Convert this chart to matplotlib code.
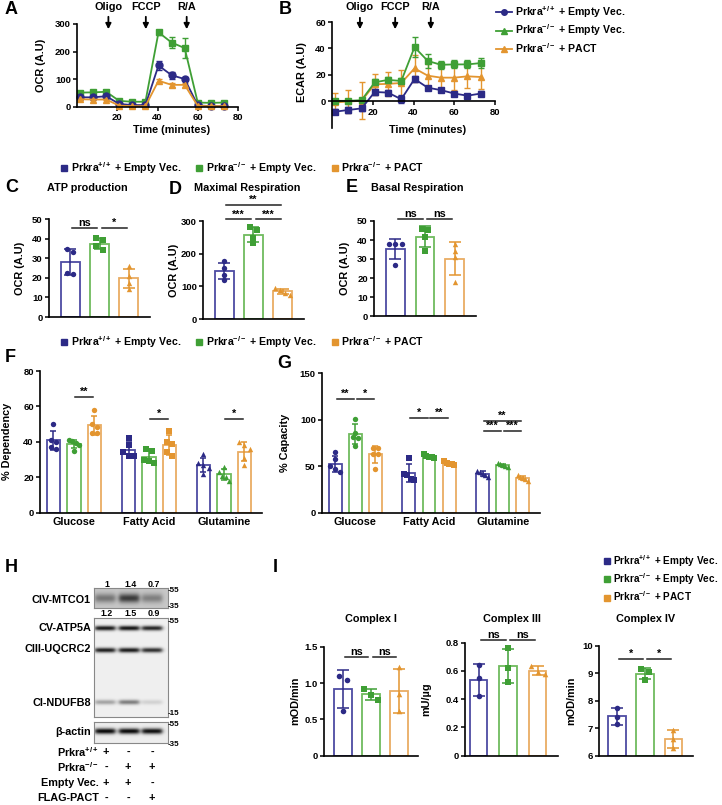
import numpy as np
import matplotlib
matplotlib.use('Agg')
import matplotlib.pyplot as plt
import matplotlib.transforms as mtransforms
from matplotlib.lines import Line2D

plt.rcParams['font.family'] = ['Liberation Sans', 'DejaVu Sans']
plt.rcParams['font.weight'] = 'bold'
plt.rcParams['axes.labelweight'] = 'bold'
plt.rcParams['axes.titleweight'] = 'bold'
plt.rcParams['mathtext.fontset'] = 'custom'
plt.rcParams['mathtext.rm'] = 'Liberation Sans:bold'
plt.rcParams['mathtext.it'] = 'Liberation Sans:bold'
plt.rcParams['mathtext.bf'] = 'Liberation Sans:bold'
plt.rcParams['mathtext.default'] = 'rm'
plt.rcParams['axes.linewidth'] = 1.2

W, H = 722, 805

BLUE, GREEN, ORANGE = '#2c2a86', '#3f9f35', '#e3952f'
BLUE_E, GREEN_E, ORANGE_E = '#4d4ba2', '#6fbb5e', '#e9ad63'
DARK = [BLUE, GREEN, ORANGE]
EDGE = [BLUE_E, GREEN_E, ORANGE_E]

GROUPS = ['Prkra$^{+/+}$ + Empty Vec.', 'Prkra$^{-/-}$ + Empty Vec.', 'Prkra$^{-/-}$ + PACT']

# --- A / B : seahorse traces ---
time_min = [1.5, 8, 14.5, 21, 27.5, 34, 40.5, 47, 53.5, 60, 66.5, 73]
ocr_wt = [35, 35, 39, 11, 7, 7, 150, 115, 101, 6, 3, 3]
ocr_wt_err = [4, 4, 4, 3, 3, 3, 15, 12, 7, 2, 2, 2]
ocr_ko = [52, 53, 55, 22, 19, 19, 270, 233, 213, 16, 15, 16]
ocr_ko_err = [5, 5, 5, 4, 4, 4, 8, 20, 36, 3, 3, 3]
ocr_pact = [28, 27, 27, 5, 3, 3, 95, 80, 80, 4, 3, 3]
ocr_pact_err = [3, 3, 3, 2, 2, 2, 5, 6, 6, 2, 2, 2]

ecar_wt = [-7.7, -6.4, -5.2, 7.2, 6.7, 1.7, 17, 10.4, 8.6, 6, 4.4, 6]
ecar_wt_err = [2, 2, 2, 2, 2, 3, 2, 1.5, 1.5, 1.5, 1.5, 2]
ecar_ko = [0.5, 0.5, 1, 14.5, 16.3, 15.5, 41, 30.6, 27.7, 28, 28, 29]
ecar_ko_err = [1, 1, 1, 2.5, 2.5, 2.5, 7.5, 5, 3, 3, 3, 3.5]
ecar_pact = [-0.7, 0, 0.5, 13, 13.3, 14, 25, 19.5, 18, 18, 19, 18.5]
ecar_pact_err = [7, 9, 14, 8, 9, 10, 10, 9, 9, 9, 9, 9]

injections = ['Oligo', 'FCCP', 'R/A']
inject_a = [15.6, 34.2, 54.5]
inject_b = [13.7, 31, 48.5]

# --- C / D / E ---
atp_prod = [[33, 34.7, 22, 22.5], [40.5, 39.5, 36, 34], [26, 21, 17.5, 14.5]]
max_resp = [[178, 157, 135, 120], [282, 272, 248, 232], [95, 88, 80, 75]]
basal_resp = [[38, 38, 38, 27], [46, 45.5, 41.5, 34], [38, 34, 31, 18]]

# --- F / G ---
fuels = ['Glucose', 'Fatty Acid', 'Glutamine']
dependency = [
    [[50, 41, 37, 36, 40], [40.5, 39.5, 41, 38, 35], [58, 50, 48.5, 45, 45]],
    [[42, 38, 34, 32, 32], [36, 35, 30, 29, 28], [46, 40, 39, 34, 32]],
    [[33, 28, 27, 25, 22], [26, 23, 21, 20, 18], [40, 38, 36, 31, 27]],
]
capacity = [
    [[65, 58, 50, 47, 44], [101, 86, 81, 80, 72], [70, 70, 63, 63, 47]],
    [[59, 42, 40, 36, 35], [63, 61, 60, 60, 59], [55, 53, 52, 52, 51]],
    [[45, 44, 42, 41, 38], [53, 52, 51, 50, 49], [40, 38, 37, 36, 34]],
]

# --- H : blot ---
blot_lanes = ['Prkra$^{+/+}$', 'Prkra$^{-/-}$', 'Empty Vec.', 'FLAG-PACT']
lane_signs = [['+', '-', '-'], ['-', '+', '+'], ['+', '+', '-'], ['-', '-', '+']]
mtco1_ratio = ['1', '1.4', '0.7']
atp5a_ratio = ['1.2', '1.5', '0.9']
mtco1_int = [0.32, 0.55, 0.28]
atp5a_int = [0.85, 0.87, 0.8]
uqcrc2_int = [0.82, 0.84, 0.76]
ndufb8_int = [0.3, 0.45, 0.12]
actin_int = [0.9, 0.9, 0.88]

# --- I : complex activity ---
complex_1 = [[1.10, 1.04, 0.62], [0.92, 0.84, 0.77], [1.22, 0.85, 0.62]]
complex_3 = [[0.64, 0.55, 0.42], [0.76, 0.62, 0.52], [0.635, 0.595, 0.575]]
complex_4 = [[7.75, 7.4, 7.15], [9.15, 9.05, 8.75], [6.95, 6.6, 6.28]]

fig = plt.figure(figsize=(W / 100, H / 100), dpi=100)


def add_ax(x0, y0, x1, y1):
    return fig.add_axes([x0 / W, 1 - y1 / H, (x1 - x0) / W, (y1 - y0) / H])


def ftext(px, py, s, **kw):
    fig.text(px / W, 1 - py / H, s, **kw)


def style(ax):
    ax.spines[['top', 'right']].set_visible(False)
    ax.tick_params(labelsize=6.8, length=3, width=1.1, pad=1.5)


def spread(values, thr, dx, maxw):
    values = np.asarray(values, dtype=float)
    order = np.argsort(values)[::-1]
    offs = np.zeros(len(values))
    clusters, cur = [], [order[0]]
    for i in order[1:]:
        if abs(values[cur[-1]] - values[i]) < thr:
            cur.append(i)
        else:
            clusters.append(cur)
            cur = [i]
    clusters.append(cur)
    for cl in clusters:
        k = len(cl)
        step = min(dx, maxw / (k - 1)) if k > 1 else 0
        for j, idx in enumerate(cl):
            offs[idx] = (j - (k - 1) / 2) * step
    return offs


def bars(ax, xs, samples, width, markers, base=0, thr=1.0, dx=0.15, cap=4, ms=12):
    for k, (x, pts) in enumerate(zip(xs, samples)):
        pts = np.asarray(pts, dtype=float)
        m, sd = pts.mean(), pts.std(ddof=1)
        ax.bar(x, m - base, bottom=base, width=width, facecolor='white',
               edgecolor=EDGE[k % 3], lw=1.3, zorder=1)
        ax.errorbar(x, m, yerr=sd, fmt='none', ecolor=DARK[k % 3], elinewidth=1.1,
                    capsize=cap, capthick=1.1, zorder=2)
        ax.scatter(x + spread(pts, thr, dx, width * 0.8), pts, marker=markers[k], s=ms,
                   color=DARK[k % 3], zorder=3, clip_on=False, linewidths=0)


def sig(ax, x1, x2, y, text, shrink=0.08):
    ax.plot([x1 + shrink, x2 - shrink], [y, y], color='#222222', lw=1.1, clip_on=False)
    ax.text((x1 + x2) / 2, y, text, ha='center', va='bottom', fontsize=7.8, clip_on=False)


# ---------------- A ----------------
ftext(5, 10, 'A', fontsize=13, ha='left', va='center')
axA = add_ax(77, 24, 238, 107)
for vals, errs, c, mk in [(ocr_ko, ocr_ko_err, GREEN, 's'), (ocr_wt, ocr_wt_err, BLUE, 'o'),
                          (ocr_pact, ocr_pact_err, ORANGE, '^')]:
    axA.errorbar(time_min, vals, yerr=errs, color=c, marker=mk, ms=5, lw=1.3,
                 capsize=2, elinewidth=1, clip_on=False)
axA.set_xlim(0, 80)
axA.set_ylim(0, 300)
axA.set_xticks([20, 40, 60, 80])
axA.set_yticks([0, 100, 200, 300])
style(axA)
axA.set_ylabel('OCR (A.U)', fontsize=7.8)
axA.yaxis.set_label_coords(-0.19, 0.5)
ftext(172, 130, 'Time (minutes)', ha='center', va='center', fontsize=7.8)
trA = mtransforms.blended_transform_factory(axA.transData, fig.transFigure)
for name, t in zip(injections, inject_a):
    axA.annotate('', xy=(t, 1 - 32 / H), xytext=(t, 1 - 14 / H), xycoords=trA, textcoords=trA,
                 arrowprops=dict(arrowstyle='-|>', color='k', lw=1.3, mutation_scale=8))
    axA.text(t, 1 - 7 / H, name, transform=trA, ha='center', va='center', fontsize=7.8)

# ---------------- B ----------------
ftext(279, 10, 'B', fontsize=13, ha='left', va='center')
axB = add_ax(332, 22, 495, 128)
for vals, errs, c, mk in [(ecar_pact, ecar_pact_err, ORANGE, '^'), (ecar_ko, ecar_ko_err, GREEN, 's'),
                          (ecar_wt, ecar_wt_err, BLUE, 's')]:
    axB.errorbar(time_min, vals, yerr=errs, color=c, marker=mk, ms=5, lw=1.3,
                 capsize=2, elinewidth=1, clip_on=False)
axB.set_xlim(0, 80)
axB.set_ylim(-20, 60)
axB.set_xticks([20, 40, 60, 80])
axB.set_yticks([0, 20, 40, 60])
style(axB)
axB.spines['bottom'].set_position(('data', 0))
axB.set_ylabel('ECAR (A.U)', fontsize=7.8)
axB.yaxis.set_label_coords(-0.155, 0.53)
ftext(428, 130, 'Time (minutes)', ha='center', va='center', fontsize=7.8)
trB = mtransforms.blended_transform_factory(axB.transData, fig.transFigure)
for name, t in zip(injections, inject_b):
    axB.annotate('', xy=(t, 1 - 32 / H), xytext=(t, 1 - 15 / H), xycoords=trB, textcoords=trB,
                 arrowprops=dict(arrowstyle='-|>', color='k', lw=1.3, mutation_scale=8))
    axB.text(t, 1 - 7 / H, name, transform=trB, ha='center', va='center', fontsize=7.8)
line_handles = [Line2D([], [], color=c, marker=mk, ms=4, lw=1.3) for c, mk in
                [(BLUE, 'o'), (GREEN, '^'), (ORANGE, '^')]]
fig.legend(line_handles, GROUPS, loc='upper left', bbox_to_anchor=(496 / W, 1 - 4 / H),
           frameon=False, fontsize=7.6, handlelength=1.5, handletextpad=0.3,
           labelspacing=0.25, borderpad=0, borderaxespad=0)

# ---------------- legend rows ----------------
sq_handles = [Line2D([], [], color=c, marker='s', ls='none', ms=4.5) for c in DARK]
for yrow in (168, 342):
    fig.legend(sq_handles, GROUPS, loc='center left', bbox_to_anchor=(60 / W, 1 - yrow / H),
               ncol=3, frameon=False, fontsize=7.6, handlelength=0.8, handletextpad=0.2,
               columnspacing=1.35, borderpad=0, borderaxespad=0)

# ---------------- C / D / E ----------------
cde = [
    ('C', 'ATP production', atp_prod, (49, 219, 150, 317), (0, 50), range(0, 51, 10)),
    ('D', 'Maximal Respiration', max_resp, (203, 221, 304, 319), (0, 300), [0, 100, 200, 300]),
    ('E', 'Basal Respiration', basal_resp, (374, 221, 476, 316), (0, 50), range(0, 51, 10)),
]
letter_xy = {'C': (5, 187), 'D': (169, 190), 'E': (346, 188)}
title_x = {'C': 87, 'D': 247, 'E': 417}
cde_axes = {}
for letter, title, data, rect, ylim, yt in cde:
    ax = add_ax(*rect)
    bars(ax, [0, 1, 2], data, 0.64, ['o', 's', '^'], thr=(ylim[1] - ylim[0]) * 0.05,
         dx=0.22, cap=4.3, ms=15)
    ax.set_xlim(-0.72, 2.72)
    ax.set_ylim(*ylim)
    ax.set_yticks(list(yt))
    ax.set_xticks([])
    style(ax)
    ax.set_ylabel('OCR (A.U)', fontsize=7.8)
    ax.yaxis.set_label_coords(-0.235, 0.5)
    ftext(*letter_xy[letter], letter, fontsize=13, ha='left', va='center')
    ftext(title_x[letter], 188, title, fontsize=7.8, ha='center', va='center')
    cde_axes[letter] = ax

sig(cde_axes['C'], 0, 1, 45.5, 'ns')
sig(cde_axes['C'], 1, 2, 45.5, '*')
sig(cde_axes['D'], 0, 1, 305, '***')
sig(cde_axes['D'], 1, 2, 305, '***')
sig(cde_axes['D'], 0, 2, 350, '**')
sig(cde_axes['E'], 0, 1, 51, 'ns')
sig(cde_axes['E'], 1, 2, 51, 'ns')

# ---------------- F / G ----------------
off = 0.273
fg = [
    ('F', dependency, (40, 371, 262, 512.7), (0, 80), [0, 20, 40, 60, 80], '% Dependency', -0.126, (5, 357)),
    ('G', capacity, (322, 373, 540, 512.7), (0, 150), [0, 50, 100, 150], '% Capacity', -0.147, (277, 363)),
]
fg_axes = {}
for letter, data, rect, ylim, yt, ylabel, lx, lxy in fg:
    ax = add_ax(*rect)
    for g, groups in enumerate(data):
        xs = [g - off, g, g + off]
        mk = ['o', 's', '^'][g]
        bars(ax, xs, groups, 0.175, [mk] * 3, thr=ylim[1] * 0.03, dx=0.07, cap=2.4, ms=15)
    ax.set_xlim(-0.453, 2.507)
    ax.set_ylim(*ylim)
    ax.set_yticks(yt)
    ax.set_xticks([0, 1, 2])
    ax.set_xticklabels(fuels, fontsize=7.8)
    style(ax)
    ax.tick_params(axis='x', length=0, labelsize=7.8, pad=3)
    ax.set_ylabel(ylabel, fontsize=7.8)
    ax.yaxis.set_label_coords(lx, 0.5)
    ftext(*lxy, letter, fontsize=13, ha='left', va='center')
    fg_axes[letter] = ax

axF, axG = fg_axes['F'], fg_axes['G']
sig(axF, 0, 0 + off, 65.4, '**', shrink=0.02)
sig(axF, 1, 1 + off, 53, '*', shrink=0.02)
sig(axF, 2, 2 + off, 53, '*', shrink=0.02)
sig(axG, 0 - off, 0, 122.5, '**', shrink=0.02)
sig(axG, 0, 0 + off, 122.5, '*', shrink=0.02)
sig(axG, 1 - off, 1, 101.8, '*', shrink=0.02)
sig(axG, 1, 1 + off, 101.8, '**', shrink=0.02)
sig(axG, 2 - off, 2, 88, '***', shrink=0.02)
sig(axG, 2, 2 + off, 88, '***', shrink=0.02)
sig(axG, 2 - off, 2 + off, 98.6, '**', shrink=0.02)

# ---------------- H : western blot ----------------
ftext(5, 567, 'H', fontsize=13, ha='left', va='center')
lanes_px = [105, 129, 152]
box_x0, box_x1 = 94, 168


def blot(y0, y1, bands, bg, sigma):
    ax = add_ax(box_x0, y0, box_x1, y1)
    scale = 3
    h, w = int((y1 - y0) * scale), int((box_x1 - box_x0) * scale)
    yy = np.arange(h)[:, None] / scale
    xx = np.arange(w)[None, :] / scale
    img = np.full((h, w), bg)
    for row, ints in bands:
        for lx, it in zip(lanes_px, ints):
            cx = lx - box_x0
            px_ = 1 / (1 + np.exp(-(xx - (cx - 10)) / 1.2)) / (1 + np.exp((xx - (cx + 10)) / 1.2))
            py_ = np.exp(-0.5 * ((yy - row) / sigma) ** 2)
            img = img - it * px_ * py_
    ax.imshow(np.clip(img, 0, 1), cmap='gray', vmin=0, vmax=1, aspect='auto',
              extent=[0, w / scale, h / scale, 0], interpolation='bilinear')
    ax.set_xticks([])
    ax.set_yticks([])
    for s in ax.spines.values():
        s.set_color('#888888')
        s.set_linewidth(0.8)
    return ax


blot(588, 608, [(10, mtco1_int)], 0.78, 3.2)
blot(618, 717, [(10, atp5a_int), (32, uqcrc2_int), (84, ndufb8_int)], 0.94, 1.7)
blot(722, 743, [(9, actin_int)], 0.93, 2.0)

for lx, r in zip(lanes_px, mtco1_ratio):
    ftext(lx + 2, 584, r, fontsize=6.4, ha='center', va='center')
for lx, r in zip(lanes_px, atp5a_ratio):
    ftext(lx + 2, 613, r, fontsize=6.4, ha='center', va='center')
for py, s in [(590, '-55'), (606, '-35'), (621, '-55'), (713, '-15'), (724, '-55'), (744, '-35')]:
    ftext(168, py, s, fontsize=5.8, ha='left', va='center')
for py, s in [(600, 'CIV-MTCO1'), (628, 'CV-ATP5A'), (649, 'CIII-UQCRC2'), (703, 'CI-NDUFB8'),
              (732, 'β-actin')]:
    ftext(91, py, s, fontsize=7.8, ha='right', va='center')
for py, name, signs in zip([752, 767, 783, 798], blot_lanes, lane_signs):
    ftext(99, py, name, fontsize=7.8, ha='right', va='center')
    for lx, s in zip([106, 128, 152], signs):
        ftext(lx, py, s, fontsize=7.8, ha='center', va='center')

# ---------------- I : complex activities ----------------
ftext(273, 567, 'I', fontsize=13, ha='left', va='center')
fig.legend(sq_handles, GROUPS, loc='center left', bbox_to_anchor=(603 / W, 1 - 578 / H),
           frameon=False, fontsize=7.2, handlelength=0.8, handletextpad=0.2,
           labelspacing=0.25, borderpad=0, borderaxespad=0)
cplx = [
    ('Complex I', complex_1, (324, 646.7, 418, 755.7), (0, 1.5), [0, 0.5, 1.0, 1.5], '0', 'mOD/min',
     (-0.67, 2.69), -0.255, 1.36, ['ns', 'ns'], 0.63),
    ('Complex III', complex_3, (465, 642.7, 558, 755.7), (0, 0.8), [0, 0.2, 0.4, 0.6, 0.8], '0', 'mU/µg',
     (-0.46, 2.69), -0.36, 0.82, ['ns', 'ns'], 0.59),
    ('Complex IV', complex_4, (599, 645.7, 693, 755.7), (6, 10), [6, 7, 8, 9, 10], '', 'mOD/min',
     (-0.63, 2.69), -0.24, 9.52, ['*', '*'], 0.63),
]
for title, data, rect, ylim, yt, zero, ylabel, xlim, lx, sy, stext, bw in cplx:
    ax = add_ax(*rect)
    bars(ax, [0, 1, 2], data, bw, ['o', 's', '^'], base=ylim[0], thr=(ylim[1] - ylim[0]) * 0.06,
         dx=0.3, cap=4.3, ms=16)
    ax.set_xlim(*xlim)
    ax.set_ylim(*ylim)
    ax.set_yticks(yt)
    if zero:
        ax.set_yticklabels([zero] + [f'{v:.1f}' for v in yt[1:]])
    ax.set_xticks([])
    style(ax)
    ax.set_ylabel(ylabel, fontsize=7.8)
    ax.yaxis.set_label_coords(lx, 0.5)
    ftext((rect[0] + rect[2]) / 2, 619, title, fontsize=7.8, ha='center', va='center')
    sig(ax, 0, 1, sy, stext[0])
    sig(ax, 1, 2, sy, stext[1])

fig.savefig('out.png', dpi=100)
